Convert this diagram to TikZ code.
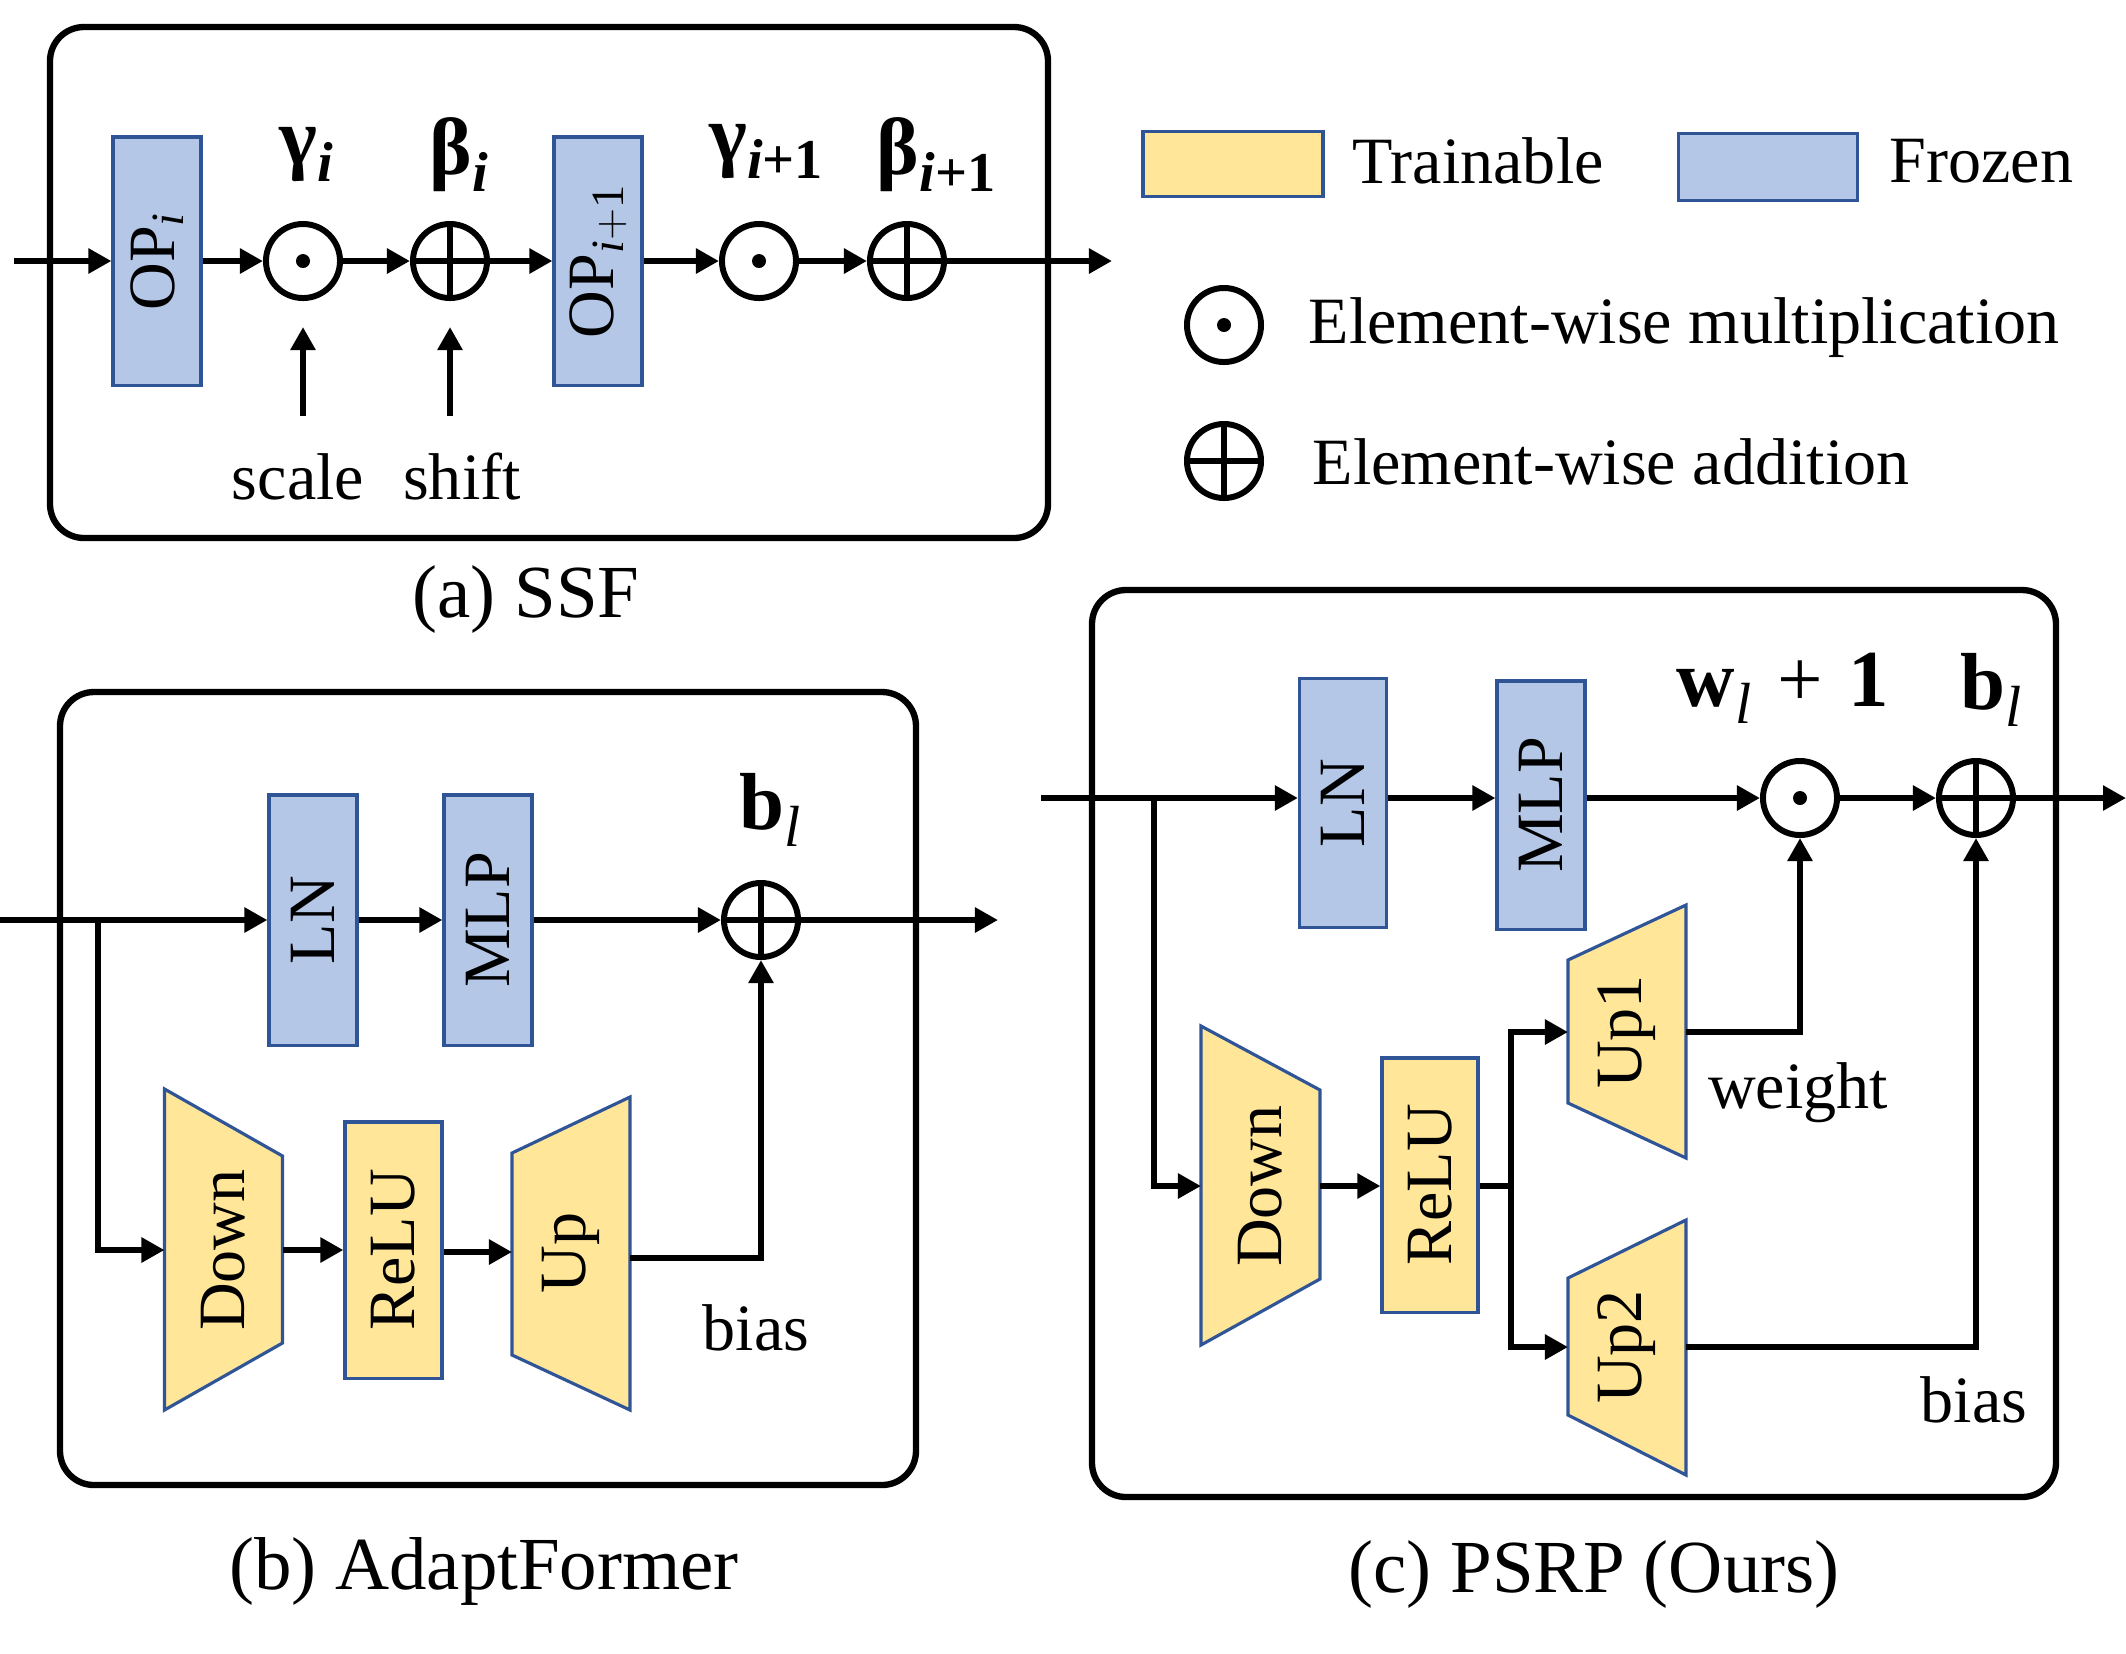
\documentclass[tikz,border=0pt]{standalone}
\usepackage{fontspec}
\setmainfont{Liberation Serif}
\usetikzlibrary{arrows.meta,calc}
\definecolor{frozenfill}{HTML}{B4C7E7}
\definecolor{trainfill}{HTML}{FFE699}
\definecolor{boxedge}{HTML}{2F5597}
\newcommand{\txt}{\fontsize{18.8pt}{22pt}\selectfont}
\newcommand{\capt}{\fontsize{21.3pt}{25pt}\selectfont}
\newcommand{\lab}{\fontsize{23pt}{27pt}\selectfont}
\newcommand{\bsub}[2]{{\bfseries #1}\raisebox{-0.45ex}{\fontsize{16pt}{16pt}\selectfont\bfseries\itshape #2}}
\newcommand{\lsub}[2]{{\bfseries #1}\raisebox{-0.45ex}{\fontsize{16.5pt}{16pt}\selectfont\itshape #2}}
\tikzset{
  panel/.style={draw,line width=1.8pt,rounded corners=3.4mm},
  frozen/.style={draw=boxedge,fill=frozenfill,line width=0.9pt,inner sep=0pt,font=\txt},
  trainbox/.style={draw=boxedge,fill=trainfill,line width=0.9pt,inner sep=0pt,font=\txt},
  trap/.style={draw=boxedge,fill=trainfill,line width=0.9pt},
  conn/.style={line width=1.7pt},
  arr/.style={conn,-{Triangle[length=2.3mm,width=2.4mm]}},
  opnode/.style={circle,draw,line width=1.7pt,minimum size=7.4mm,inner sep=0pt},
  mul/.style={opnode,path picture={\fill (path picture bounding box.center) circle (0.7mm);}},
  add/.style={opnode,path picture={\draw[line width=1.7pt] (path picture bounding box.north) -- (path picture bounding box.south) (path picture bounding box.west) -- (path picture bounding box.east);}},
  lbl/.style={font=\txt,inner sep=0pt},
  caplbl/.style={font=\capt,inner sep=0pt},
  mlbl/.style={font=\lab,inner sep=0pt},
}
\begin{document}
\begin{tikzpicture}[x=0.01cm,y=-0.01cm]
\useasboundingbox (0,0) rectangle (2126,1653);

% ================= (a) SSF =================
\draw[panel] (50,27) rectangle (1048,538);
\node[frozen,minimum width=8.8mm,minimum height=24.8mm] (opi) at (157,261) {\rotatebox{90}{OP$_{\mathit{i}}$}};
\node[mul] (m1) at (303,261) {};
\node[add] (a1) at (450,261) {};
\node[frozen,minimum width=8.8mm,minimum height=24.8mm] (opj) at (598,261) {\rotatebox{90}{OP$_{\mathit{i}\mathrm{+1}}$}};
\node[mul] (m2) at (759,261) {};
\node[add] (a2) at (907,261) {};
\coordinate (ina) at (14,261);
\coordinate (outa) at (1112,261);
\draw[arr] (ina) -- (opi.west);
\draw[arr] (opi.east) -- (m1.west);
\draw[arr] (m1.east) -- (a1.west);
\draw[arr] (a1.east) -- (opj.west);
\draw[arr] (opj.east) -- (m2.west);
\draw[arr] (m2.east) -- (a2.west);
\draw[arr] (a2.east) -- (outa);
\node[mlbl] (gi) at (306,155) {\bsub{γ}{i}};
\node[mlbl] (bi) at (459,155) {\bsub{β}{i}};
\node[mlbl] (gj) at (766,152) {\bsub{γ}{i{\upshape +1}}};
\node[mlbl] (bj) at (936,155) {\bsub{β}{i{\upshape +1}}};
\coordinate (scs) at (303,416);
\coordinate (sct) at (303,327);
\coordinate (shs) at (450,416);
\coordinate (sht) at (450,327);
\draw[arr] (scs) -- (sct);
\draw[arr] (shs) -- (sht);
\node[lbl] (scale) at (298,477) {scale};
\node[lbl] (shift) at (462,477) {shift};
\node[caplbl] (capa) at (526,599) {(a) SSF};

% ================= Legend =================
\node[trainbox,minimum width=18mm,minimum height=6.5mm] (lgT) at (1233,164) {};
\node[lbl,anchor=west] (lgTt) at (1352,161) {Trainable};
\node[frozen,minimum width=17.9mm,minimum height=6.7mm] (lgF) at (1768,167) {};
\node[lbl,anchor=west] (lgFt) at (1889,161) {Frozen};
\node[mul] (lgM) at (1224,325) {};
\node[lbl,anchor=west] (lgMt) at (1308,328) {Element-wise multiplication};
\node[add] (lgA) at (1224,461) {};
\node[lbl,anchor=west] (lgAt) at (1312,462) {Element-wise addition};

% ================= (b) AdaptFormer =================
\draw[panel] (60,692) rectangle (916,1485);
\node[frozen,minimum width=8.8mm,minimum height=25mm] (lnb) at (313,920) {\rotatebox{90}{LN}};
\node[frozen,minimum width=8.8mm,minimum height=25mm] (mlpb) at (488,920) {\rotatebox{90}{MLP}};
\node[add] (addb) at (761,920) {};
\node[mlbl] (blb) at (770,810) {\lsub{b}{l}};
\coordinate (inb) at (0,920);
\coordinate (outb) at (998,920);
\coordinate (brb) at (98,920);
\draw[arr] (inb) -- (lnb.west);
\draw[arr] (lnb.east) -- (mlpb.west);
\draw[arr] (mlpb.east) -- (addb.west);
\draw[arr] (addb.east) -- (outb);
% Down
\draw[trap] (164.5,1089) -- (282.5,1156) -- (282.5,1343) -- (164.5,1410) -- cycle;
\node[lbl] (downb) at (223.5,1250) {\rotatebox{90}{Down}};
\coordinate (downbW) at (164.5,1250);
\coordinate (downbE) at (282.5,1250);
% ReLU
\node[trainbox,minimum width=9.7mm,minimum height=25.6mm] (relub) at (393.5,1250) {\rotatebox{90}{ReLU}};
% Up
\draw[trap] (512,1153) -- (630,1097) -- (630,1410) -- (512,1355) -- cycle;
\node[lbl] (upb) at (571,1253) {\rotatebox{90}{Up}};
\coordinate (upbW) at (512,1252);
\coordinate (upbE) at (630,1258);
\draw[arr] (brb) |- (downbW);
\draw[arr] (downbE) -- (relub.west);
\draw[arr] (relub.east |- upbW) -- (upbW);
\draw[arr] (upbE) -| (addb.south);
\node[lbl] (biasb) at (756,1328) {bias};
\node[caplbl] (capb) at (484,1571) {(b) AdaptFormer};

% ================= (c) PSRP =================
\draw[panel] (1092,590) rectangle (2056,1497);
\node[frozen,minimum width=8.7mm,minimum height=24.9mm] (lnc) at (1343,803) {\rotatebox{90}{LN}};
\node[frozen,minimum width=8.8mm,minimum height=24.8mm] (mlpc) at (1541,805) {\rotatebox{90}{MLP}};
\node[mul] (mulc) at (1800,798) {};
\node[add] (addc) at (1976,798) {};
\node[mlbl] (wlc) at (1783,688) {\lsub{w}{l}\hspace{0.32em}+\hspace{0.32em}{\bfseries 1}};
\node[mlbl] (blc) at (1991,690) {\lsub{b}{l}};
\coordinate (inc) at (1041,798);
\coordinate (outc) at (2126,798);
\coordinate (brc) at (1154,798);
\draw[arr] (inc) -- (lnc.west |- inc);
\draw[arr] (lnc.east |- inc) -- (mlpc.west |- inc);
\draw[arr] (mlpc.east |- inc) -- (mulc.west);
\draw[arr] (mulc.east) -- (addc.west);
\draw[arr] (addc.east) -- (outc);
% Down
\draw[trap] (1201,1026) -- (1320,1090) -- (1320,1279) -- (1201,1345) -- cycle;
\node[lbl] (downc) at (1260.5,1186) {\rotatebox{90}{Down}};
\coordinate (downcW) at (1201,1186);
\coordinate (downcE) at (1320,1186);
% ReLU
\node[trainbox,minimum width=9.6mm,minimum height=25.4mm] (reluc) at (1430,1185) {\rotatebox{90}{ReLU}};
% Up1
\draw[trap] (1568,960) -- (1686,905) -- (1686,1158) -- (1568,1103) -- cycle;
\node[lbl] (up1c) at (1627,1032) {\rotatebox{90}{Up1}};
\coordinate (up1W) at (1568,1032);
\coordinate (up1E) at (1686,1032);
% Up2
\draw[trap] (1568,1278) -- (1686,1220) -- (1686,1475) -- (1568,1415) -- cycle;
\node[lbl] (up2c) at (1627,1347) {\rotatebox{90}{Up2}};
\coordinate (up2W) at (1568,1347);
\coordinate (up2E) at (1686,1347);
\coordinate (jc) at (1511,1186);
\draw[arr] (brc) |- (downcW);
\draw[arr] (downcE) -- (reluc.west |- downcE);
\draw[conn] (reluc.east |- jc) -- (jc);
\draw[arr] (jc) |- (up1W);
\draw[arr] (jc) |- (up2W);
\draw[arr] (up1E) -| (mulc.south);
\draw[arr] (up2E) -| (addc.south);
\node[lbl] (weightc) at (1798,1093) {weight};
\node[lbl] (biasc) at (1974,1400) {bias};
\node[caplbl] (capc) at (1594,1574) {(c) PSRP (Ours)};
\end{tikzpicture}
\end{document}
